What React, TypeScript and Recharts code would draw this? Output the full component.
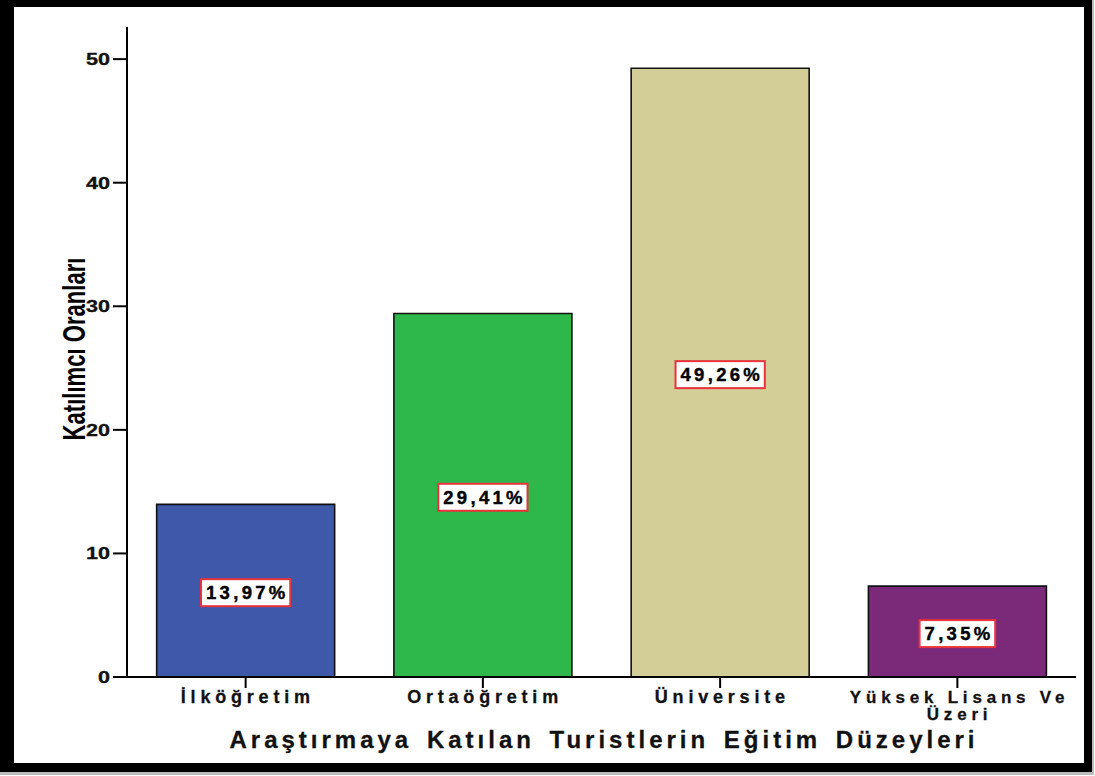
import React from "react";
import { BarChart, Bar, XAxis, YAxis, Cell, LabelList } from "recharts";

const categories = ["İlköğretim", "Ortaöğretim", "Üniversite", "Yüksek Lisans Ve Üzeri"];
const percents = [13.97, 29.41, 49.26, 7.35];
const barColors = ["#3F58AA", "#2EB84B", "#D3CE98", "#7B2979"];
const yTicks = [0, 10, 20, 30, 40, 50];

const data = categories.map((name, i) => ({ name, value: percents[i] }));

const FONT = "'Liberation Sans', Arial, sans-serif";

// rough width of bold arial glyphs, in em
const charW = (c: string) => {
  if (c === "%") return 0.889;
  if (c === ",") return 0.278;
  return 0.556;
};

const fmt = (v: number) => v.toFixed(2).replace(".", ",") + "%";

function ValueBox(props: any) {
  const { x, y, width, height, value } = props;
  const text = fmt(Number(value));
  const fs = 18.5;
  const ls = 3.3;
  const tw = text.split("").reduce((s, c) => s + charW(c) * fs + ls, 0) - ls;
  const bw = tw + 10;
  const bh = 27;
  const cx = x + width / 2;
  const cy = y + height / 2 + 2;
  return (
    <g>
      <rect x={cx - bw / 2} y={cy - bh / 2} width={bw} height={bh} fill="#fff" stroke="#E8323C" strokeWidth={2} />
      <text x={cx + ls / 2} y={cy + 6.8} textAnchor="middle" fontFamily={FONT} fontWeight="bold" fontSize={fs} letterSpacing={ls} fill="#000" stroke="#000" strokeWidth={0.4}>
        {text}
      </text>
    </g>
  );
}

function wrap(s: string, max: number) {
  const words = s.split(" ");
  const lines: string[] = [];
  let cur = "";
  words.forEach((w) => {
    const next = cur ? cur + " " + w : w;
    if (next.length > max && cur) {
      lines.push(cur);
      cur = w;
    } else cur = next;
  });
  if (cur) lines.push(cur);
  return lines;
}

function XTick(props: any) {
  const { x, payload } = props;
  const lines = wrap(String(payload.value), 16);
  const fs = lines.length > 1 ? 17 : 18;
  return (
    <g>
      <line x1={x} x2={x} y1={677} y2={688} stroke="#000" strokeWidth={2} />
      {lines.map((l, i) => (
        <text key={i} x={x + 2.2} y={703 + i * 17} textAnchor="middle" fontFamily={FONT} fontWeight="bold" fontSize={fs} letterSpacing={4.8} fill="#111" stroke="#111" strokeWidth={0.3}>
          {l}
        </text>
      ))}
    </g>
  );
}

function YTick(props: any) {
  const { y, payload } = props;
  return (
    <g>
      <line x1={113} x2={127} y1={y} y2={y} stroke="#000" strokeWidth={2} />
      <text
        x={0}
        y={0}
        transform={`translate(110,${y + 5.8}) scale(1.35,1)`}
        textAnchor="end"
        fontFamily={FONT}
        fontWeight="bold"
        fontSize={16}
        fill="#111"
        stroke="#111"
        strokeWidth={0.3}
      >
        {payload.value}
      </text>
    </g>
  );
}

export default function App() {
  return (
    <div style={{ position: "absolute", left: 0, top: 0, width: 1095, height: 776, background: "#fff", overflow: "hidden" }}>
      <div style={{ position: "absolute", left: 0, top: 0, width: 1094, height: 775, background: "#bbb" }} />
      <div
        style={{
          position: "absolute",
          left: 0,
          top: 0,
          width: 1092,
          height: 772,
          boxSizing: "border-box",
          background: "#fff",
          borderTop: "7px solid #000",
          borderLeft: "14px solid #000",
          borderRight: "8px solid #000",
          borderBottom: "9px solid #000",
        }}
      />
      <div style={{ position: "absolute", left: 0, top: 0 }}>
        <BarChart width={1095} height={776} data={data} margin={{ top: 27, right: 19, left: 0, bottom: 0 }} barCategoryGap="12.5%">
          <XAxis
            dataKey="name"
            height={99}
            axisLine={{ stroke: "#000", strokeWidth: 2 }}
            tickLine={false}
            tick={<XTick />}
            interval={0}
            label={() => (
              <text
                x={604}
                y={748}
                textAnchor="middle"
                fontFamily={FONT}
                fontWeight="bold"
                fontSize={24}
                letterSpacing={4}
                wordSpacing={4}
                fill="#111"
                stroke="#111"
                strokeWidth={0.3}
              >
                Araştırmaya Katılan Turistlerin Eğitim Düzeyleri
              </text>
            )}
          />
          <XAxis xAxisId="top" dataKey="name" orientation="top" height={0} axisLine={{ stroke: "#000", strokeWidth: 2 }} tick={false} tickLine={false} />
          <YAxis
            width={127}
            domain={[0, 52.6]}
            ticks={yTicks}
            axisLine={{ stroke: "#000", strokeWidth: 2 }}
            tickLine={false}
            tick={<YTick />}
            label={() => (
              <text
                x={0}
                y={0}
                transform="translate(85,349) rotate(-90) scale(0.69,1)"
                textAnchor="middle"
                fontFamily={FONT}
                fontWeight="bold"
                fontSize={32}
                fill="#000"
              >
                Katılımcı Oranları
              </text>
            )}
          />
          <YAxis yAxisId="right" orientation="right" width={0} axisLine={{ stroke: "#000", strokeWidth: 2 }} tick={false} tickLine={false} />
          <Bar dataKey="value" stroke="#111" strokeWidth={1.6} isAnimationActive={false}>
            {data.map((d, i) => (
              <Cell key={d.name} fill={barColors[i]} />
            ))}
            <LabelList dataKey="value" content={<ValueBox />} />
          </Bar>
        </BarChart>
      </div>
    </div>
  );
}
